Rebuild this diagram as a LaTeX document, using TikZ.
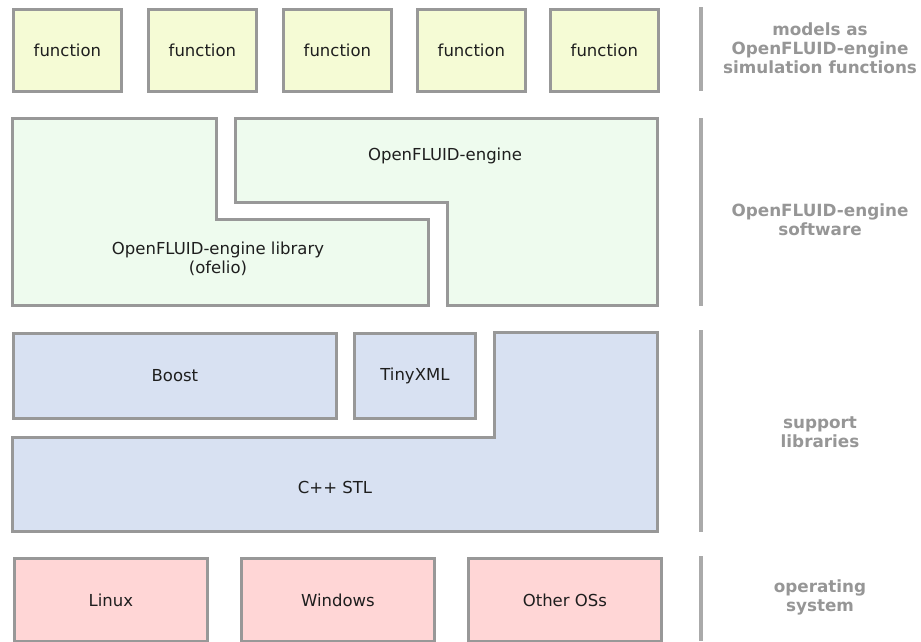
\documentclass[tikz,border=0pt]{standalone}
\usepackage{fontspec}
\setmainfont{DejaVu Sans}
\definecolor{bordergray}{RGB}{152,152,152}
\definecolor{funcfill}{RGB}{245,251,213}
\definecolor{softfill}{RGB}{238,251,238}
\definecolor{libfill}{RGB}{216,225,242}
\definecolor{osfill}{RGB}{255,214,214}
\definecolor{labelgray}{RGB}{150,150,150}
\definecolor{bargray}{RGB}{170,170,170}
\definecolor{txt}{RGB}{30,30,30}
\begin{document}
\begin{tikzpicture}[x=1pt,y=-1pt,
  boxline/.style={draw=bordergray, line width=2.8pt, line join=miter},
  lshape/.style={boxline, line width=3.3pt},
  blk/.style={boxline, inner sep=0pt, anchor=north west, font=\fontsize{16.5}{20}\selectfont, text=txt},
  funcbox/.style={blk, fill=funcfill, minimum width=108pt, minimum height=82pt},
  osbox/.style={blk, fill=osfill, minimum width=193pt, minimum height=83pt},
  libbox/.style={blk, fill=libfill, minimum height=85pt},
  txtnode/.style={font=\fontsize{16.5}{19}\selectfont, text=txt, align=center, inner sep=0pt},
  sidelabel/.style={font=\bfseries\fontsize{16.8}{19}\selectfont, text=labelgray, align=center, inner sep=0pt},
  sidebar/.style={draw=bargray, line width=4pt}
]
\useasboundingbox (0,0) rectangle (921,641);

% --- functions row
\node[funcbox] (f1) at (12,8) {function};
\node[funcbox] (f2) at (147,8) {function};
\node[funcbox] (f3) at (282,8) {function};
\node[funcbox] (f4) at (416,8) {function};
\node[funcbox] (f5) at (549,8) {function};

% --- OpenFLUID-engine software
\draw[lshape, fill=softfill] (12.5,118.5) -- (216.5,118.5) -- (216.5,219.5) -- (428.5,219.5) -- (428.5,305.5) -- (12.5,305.5) -- cycle;
\draw[lshape, fill=softfill] (235.5,118.5) -- (657.5,118.5) -- (657.5,305.5) -- (447.5,305.5) -- (447.5,202.5) -- (235.5,202.5) -- cycle;
\node[txtnode] (lib) at (218,259) {OpenFLUID-engine library\\(ofelio)};
\node[txtnode] (eng) at (445,156) {OpenFLUID-engine};

% --- support libraries
\node[libbox, minimum width=323pt] (boost) at (12,332) {Boost};
\node[libbox, minimum width=121pt] (tiny) at (353,332) {TinyXML};
\draw[lshape, fill=libfill] (12.5,437.5) -- (494.5,437.5) -- (494.5,332.5) -- (657.5,332.5) -- (657.5,531.5) -- (12.5,531.5) -- cycle;
\node[txtnode] (stl) at (335,487) {C++ STL};

% --- operating systems
\node[osbox] (linux) at (13,557) {Linux};
\node[osbox] (win) at (240,557) {Windows};
\node[osbox] (other) at (467,557) {Other OSs};

% --- side bars
\coordinate (b1t) at (701,7);   \coordinate (b1b) at (701,91);
\coordinate (b2t) at (701,118); \coordinate (b2b) at (701,306);
\coordinate (b3t) at (701,330); \coordinate (b3b) at (701,532);
\coordinate (b4t) at (701,556); \coordinate (b4b) at (701,641);
\draw[sidebar] (b1t) -- (b1b);
\draw[sidebar] (b2t) -- (b2b);
\draw[sidebar] (b3t) -- (b3b);
\draw[sidebar] (b4t) -- (b4b);

% --- side labels
\node[sidelabel] (l1) at (820,48) {models as\\OpenFLUID-engine\\simulation functions};
\node[sidelabel] (l2) at (820,220) {OpenFLUID-engine\\software};
\node[sidelabel] (l3) at (820,432) {support\\libraries};
\node[sidelabel] (l4) at (820,597) {operating\\system};
\end{tikzpicture}
\end{document}
